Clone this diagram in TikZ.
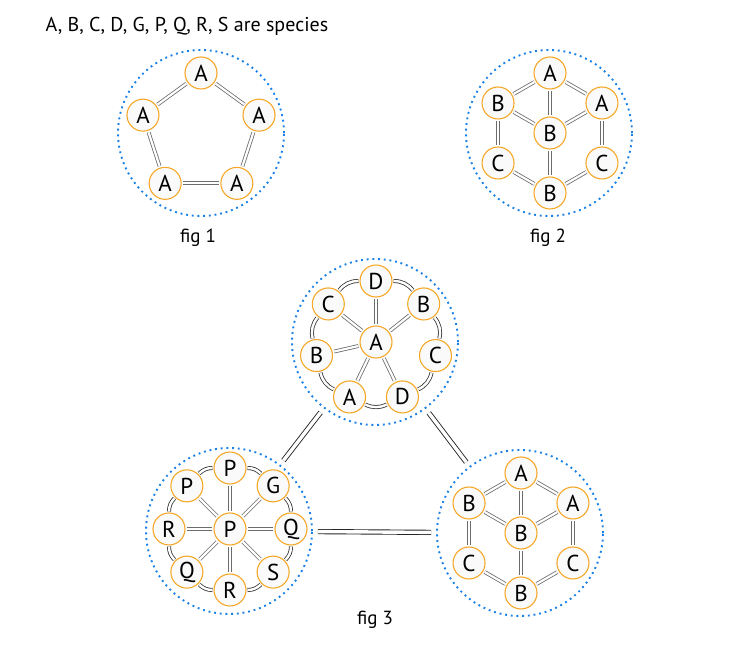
\documentclass[tikz,border=0pt]{standalone}
\usepackage{fontspec}
\setmainfont{PT Sans}
\usetikzlibrary{positioning}

\definecolor{sporange}{RGB}{245,168,40}
\definecolor{zoneblue}{RGB}{25,128,230}

\tikzset{
  sp/.style={circle, draw=sporange, fill=gray!4, line width=1.1pt,
             minimum size=32pt, inner sep=0pt,
             font=\fontsize{23}{23}\selectfont},
  zone/.style={circle, draw=zoneblue, line width=1.9pt,
               dash pattern=on 1.9pt off 3.8pt, minimum size=166pt, inner sep=0pt},
  bond/.style={draw=gray!85!black, double=white, line width=0.8pt,
               double distance=2.2pt, shorten <=1.5pt, shorten >=1.5pt},
  ring/.style={draw=black!80, double=white, line width=0.8pt,
               double distance=2.4pt, shorten <=1pt, shorten >=1pt},
  link/.style={draw=black!85, double=white, line width=0.9pt,
               double distance=3.4pt, shorten <=5pt, shorten >=5pt},
  caption/.style={anchor=base, font=\fontsize{19}{19}\selectfont}
}

\begin{document}
\begin{tikzpicture}[x=1pt, y=1pt]
\useasboundingbox (0,0) rectangle (750,655);

\node[anchor=base west, font=\fontsize{20}{20}\selectfont] (title) at (42,623)
  {A, B, C, D, G, P, Q, R, S are species};

% fig 1
\coordinate (c1) at (201,521);
\node[zone] (z1) at (201,522) {};
\foreach \a [count=\i] in {90,162,234,306,18}
  \node[sp] (a\i) at ([shift={(\a:61)}]c1) {A};
\foreach \i/\j in {1/2,2/3,3/4,4/5,5/1}
  \draw[bond] (a\i) -- (a\j);
\node[caption] (cap1) at (198,412) {fig 1};

% fig 2
\coordinate (c2) at (550,522);
\node[zone] (z2) at (549,522) {};
\node[sp] (b0) at (c2) {B};
\foreach \a/\l [count=\i] in {90/A,150/B,210/C,270/B,330/C,30/A}
  \node[sp] (b\i) at ([shift={(\a:60)}]c2) {\l};
\foreach \i/\j in {1/2,2/3,3/4,4/5,5/6,6/1,0/1,0/2,0/4,0/6}
  \draw[bond] (b\i) -- (b\j);
\node[caption] (cap2) at (548,412) {fig 2};

% fig 3, top
\coordinate (ct) at (376,313);
\node[zone] (zt) at (375,313) {};
\node[sp] (t0) at (ct) {A};
\foreach \a/\l [count=\i] in {90/D,38.57/B,-12.86/C,-64.29/D,-115.71/A,-167.14/B,141.43/C}
  \node[sp] (t\i) at ([shift={(\a:61)}]ct) {\l};
\foreach \i/\j in {1/2,2/3,3/4,4/5,5/6,6/7,7/1}
  \draw[ring] (t\i) to[bend left=25.7] (t\j);
\foreach \j in {1,2,4,5,6,7}
  \draw[bond] (t0) -- (t\j);

% fig 3, left
\coordinate (cl) at (230,126);
\node[zone] (zl) at (229,124) {};
\node[sp] (l0) at (cl) {P};
\foreach \a/\l [count=\i] in {90/P,45/G,0/Q,-45/S,-90/R,-135/Q,180/R,135/P}
  \node[sp] (l\i) at ([shift={(\a:61)}]cl) {\l};
\foreach \i/\j in {1/2,2/3,3/4,4/5,5/6,6/7,7/8,8/1}
  \draw[ring] (l\i) to[bend left=22.5] (l\j);
\foreach \j in {1,...,8}
  \draw[bond] (l0) -- (l\j);

% fig 3, right
\coordinate (cr) at (521,122);
\node[zone] (zr) at (520,122) {};
\node[sp] (r0) at (cr) {B};
\foreach \a/\l [count=\i] in {90/A,150/B,210/C,270/B,330/C,30/A}
  \node[sp] (r\i) at ([shift={(\a:60)}]cr) {\l};
\foreach \i/\j in {1/2,2/3,3/4,4/5,5/6,6/1,0/1,0/2,0/4,0/6}
  \draw[bond] (r\i) -- (r\j);

% links between the groups
\draw[link] (zt) -- (zl);
\draw[link] (zt) -- (zr);
\draw[link] (zl) -- (zr);

\node[caption] (cap3) at (375,30) {fig 3};
\end{tikzpicture}
\end{document}
